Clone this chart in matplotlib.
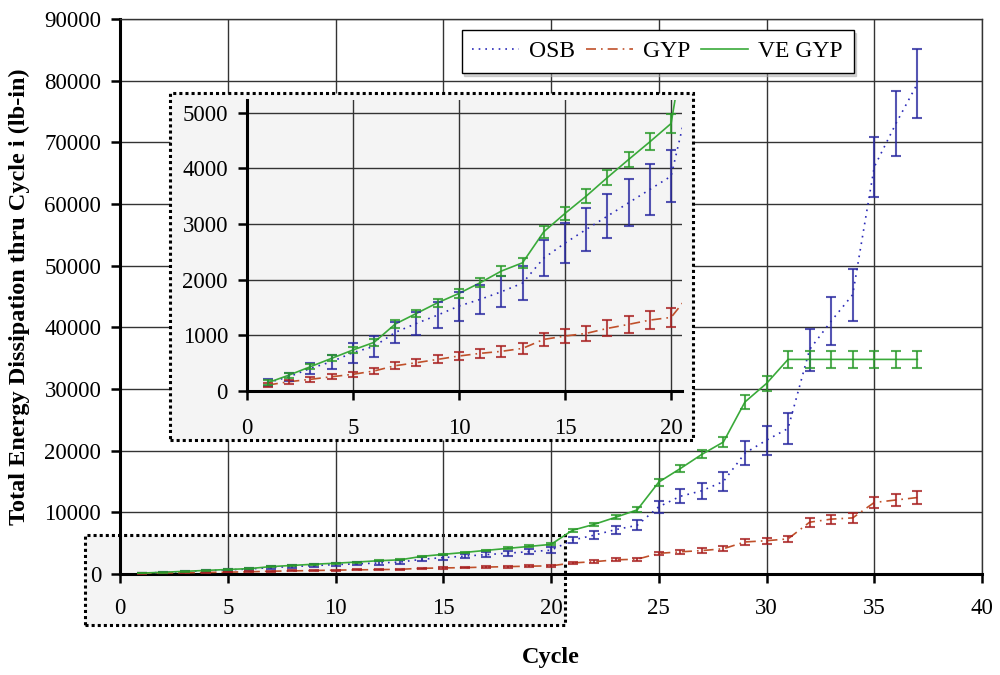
import numpy as np
import matplotlib
matplotlib.use("Agg")
import matplotlib.pyplot as plt
from matplotlib.patches import Rectangle

plt.rcParams['font.family'] = ['Liberation Serif', 'DejaVu Serif']

# Données
cycles = list(range(1, 38))

osb = [150, 257, 407, 527, 690, 802, 1054, 1216, 1365, 1527, 1647, 1784, 1940,
       2389, 2659, 2904, 3144, 3383, 3623, 3862, 5500, 6300, 7200, 7900, 10900,
       12600, 13500, 15000, 19600, 21700, 23600, 36400, 41000, 45300, 66000,
       73000, 79500]
osb_err = [60, 72, 96, 129, 180, 186, 189, 210, 240, 260, 255, 281, 305, 323,
           353, 380, 392, 419, 452, 464, 540, 650, 650, 810, 950, 1160, 1300,
           1600, 1950, 2350, 2570, 3400, 3900, 4200, 4900, 5300, 5600]

gyp = [108, 168, 210, 257, 300, 360, 455, 509, 569, 629, 677, 713, 766, 928,
       988, 1036, 1126, 1198, 1275, 1323, 1800, 2000, 2300, 2400, 3350, 3600,
       3800, 4100, 5200, 5400, 5700, 8400, 8900, 9100, 11600, 12000, 12400]
gyp_err = [30, 35, 40, 45, 50, 55, 60, 65, 70, 80, 85, 95, 100, 120, 125, 135,
           145, 150, 160, 170, 200, 220, 250, 270, 300, 320, 340, 380, 450, 480,
           500, 700, 750, 780, 950, 1000, 1000]

ve_gyp = [150, 287, 437, 587, 737, 874, 1204, 1395, 1587, 1754, 1946, 2156,
          2305, 2862, 3192, 3503, 3838, 4162, 4479, 4808, 7100, 8050, 9200,
          10400, 14900, 17100, 19400, 21400, 27900, 30900, 34800, 34800, 34800,
          34800, 34800, 34800, 34800]
ve_gyp_err = [40, 45, 50, 55, 60, 60, 65, 70, 70, 75, 80, 85, 90, 105, 110,
              120, 130, 140, 150, 165, 250, 300, 350, 400, 550, 600, 650, 750,
              1200, 1270, 1350, 1350, 1350, 1350, 1350, 1350, 1350]

series = [
    ("OSB", osb, osb_err, "#2a2ab8", "#2a2aa0", (0, (1, 3))),
    ("GYP", gyp, gyp_err, "#c0502a", "#a82020", (0, (6, 3, 1, 3))),
    ("VE GYP", ve_gyp, ve_gyp_err, "#3aaa3a", "#2a9a2a", "-"),
]

GRID = "#333333"
FS = 16.5


def draw_series(ax, label=True):
    for name, y, err, lc, ec, ls in series:
        ax.plot(cycles, y, color=lc, linestyle=ls, lw=1.2,
                label=name if label else None, zorder=3)
        ax.errorbar(cycles, y, yerr=err, fmt="none", ecolor=ec, elinewidth=1.5,
                    capsize=3.5, capthick=1.5, alpha=0.8, zorder=4)


def style_axes(ax, xpad, ypad):
    ax.grid(True, color=GRID, lw=1.0)
    ax.set_axisbelow(True)
    for side in ["left", "bottom"]:
        ax.spines[side].set_linewidth(2.2)
        ax.spines[side].set_color("black")
    for side in ["top", "right"]:
        ax.spines[side].set_linewidth(1.0)
        ax.spines[side].set_color(GRID)
    ax.tick_params(direction="out", length=6.5, width=1.8, labelsize=FS)
    ax.tick_params(axis="x", pad=xpad)
    ax.tick_params(axis="y", pad=ypad)


fig = plt.figure(figsize=(10, 6.75), dpi=100)

# Zone de zoom (en bas à gauche)
fig.patches.append(Rectangle((0.085, 0.074), 0.48, 0.133, transform=fig.transFigure,
                             facecolor="#f4f4f4", edgecolor="black", lw=2.2,
                             linestyle=(0, (1, 1)), zorder=-1))

ax = fig.add_axes([0.12, 0.1496, 0.862, 0.8223])
ax.patch.set_visible(False)
draw_series(ax)
ax.set_xlim(0, 40)
ax.set_ylim(0, 90000)
ax.set_xticks(np.arange(0, 41, 5))
ax.set_yticks(np.arange(0, 90001, 10000))
style_axes(ax, xpad=11, ypad=7)
ax.set_xlabel("Cycle", fontsize=17.5, fontweight="bold", labelpad=20)
ax.set_ylabel("Total Energy Dissipation thru Cycle i (lb-in)", fontsize=17.5,
              fontweight="bold", labelpad=10)

leg = ax.legend(loc="upper right", bbox_to_anchor=(0.851, 0.980), ncol=3,
                fontsize=17, frameon=True, fancybox=False,
                shadow={"color": "#aaaaaa", "alpha": 0.5},
                handlelength=2.0, columnspacing=0.45, handletextpad=0.42,
                borderpad=0.45, borderaxespad=0)
leg.get_frame().set_edgecolor("black")
leg.get_frame().set_linewidth(1.0)

# Encart
fig.patches.append(Rectangle((0.170, 0.348), 0.523, 0.514, transform=fig.transFigure,
                             facecolor="#f4f4f4", edgecolor="black", lw=2.2,
                             linestyle=(0, (1, 1)), zorder=1))

axin = fig.add_axes([0.2467, 0.4207, 0.435, 0.4311], zorder=2)
axin.set_facecolor("#f4f4f4")
draw_series(axin, label=False)
axin.set_xlim(0, 20.5)
axin.set_ylim(0, 5230)
axin.set_xticks(np.arange(0, 21, 5))
axin.set_yticks(np.arange(0, 5001, 1000))
style_axes(axin, xpad=13, ypad=7)
for side in ["top", "right"]:
    axin.spines[side].set_visible(False)

fig.savefig("out.png", dpi=100)
